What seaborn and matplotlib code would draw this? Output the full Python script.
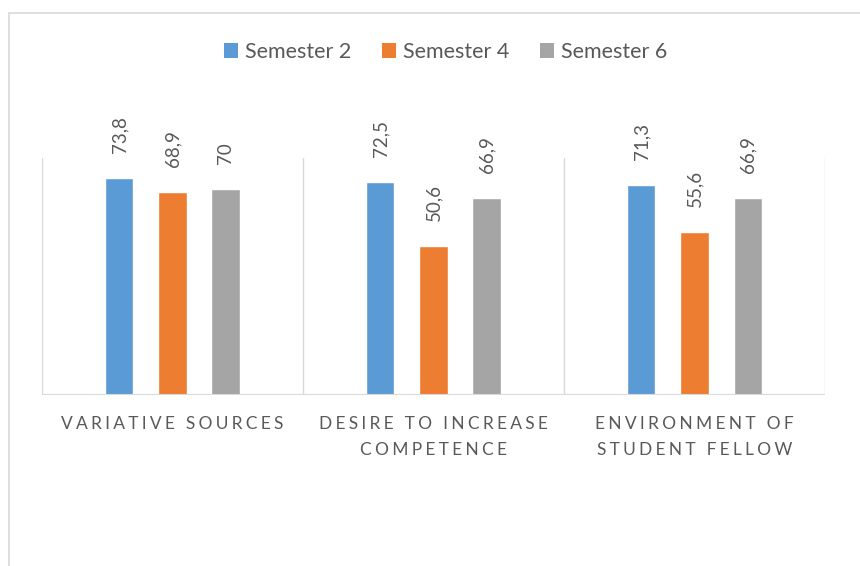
import pandas as pd
import matplotlib.pyplot as plt
import seaborn as sns
from matplotlib.patches import Patch
from matplotlib.lines import Line2D

# chart data
categories = ['VARIATIVE SOURCES', 'DESIRE TO INCREASE COMPETENCE', 'ENVIRONMENT OF STUDENT FELLOW']
tick_labels = ['VARIATIVE SOURCES', 'DESIRE TO INCREASE\nCOMPETENCE', 'ENVIRONMENT OF\nSTUDENT FELLOW']
semesters = ['Semester 2', 'Semester 4', 'Semester 6']
sem2 = [73.8, 72.5, 71.3]
sem4 = [68.9, 50.6, 55.6]
sem6 = [70, 66.9, 66.9]

colors = ['#5B9BD5', '#ED7D31', '#A5A5A5']
grid_col = '#D9D9D9'
text_col = '#595959'

# long form table for seaborn
rows = []
for sem, vals in zip(semesters, [sem2, sem4, sem6]):
    for cat, v in zip(categories, vals):
        rows.append({'category': cat, 'semester': sem, 'value': v})
df = pd.DataFrame(rows)

sns.set_theme(style='white')
plt.rcParams['font.family'] = ['Lato', 'DejaVu Sans']

fig = plt.figure(figsize=(8.6, 5.66), dpi=100)
ax = fig.add_axes([0.0488, 0.302, 0.9105, 0.4187])

sns.barplot(data=df, x='category', y='value', hue='semester', palette=colors,
            width=0.61, gap=0.47, saturation=1, legend=False, ax=ax)

ax.set_xlim(-0.5, 2.5)
ax.set_ylim(0, 80.6)

# value labels, comma decimal
for cont, vals in zip(ax.containers, [sem2, sem4, sem6]):
    labs = [f'{v:g}'.replace('.', ',') for v in vals]
    ax.bar_label(cont, labels=labs, rotation=90, padding=18, fontsize=13.5, color=text_col)

# category separators and baseline
for xs in [-0.5, 0.5, 1.5, 2.5]:
    ax.axvline(xs, color=grid_col, lw=1, zorder=0)
ax.axhline(0, color=grid_col, lw=1.5, zorder=3)

for s in ax.spines.values():
    s.set_visible(False)
ax.set_yticks([])
ax.set_xlabel('')
ax.set_ylabel('')

# letter-spaced category labels (thin + hair space between letters)
def spaced(label):
    return '\n'.join('\u2009\u200a'.join(line) for line in label.split('\n'))

ax.set_xticks(range(3))
ax.set_xticklabels([spaced(t) for t in tick_labels], fontsize=12.5, color=text_col, linespacing=1.8)
ax.tick_params(axis='x', length=0, pad=15)

# legend on top
handles = [Patch(facecolor=c, edgecolor='none') for c in colors]
fig.legend(handles, semesters, loc='center', bbox_to_anchor=(0.518, 1 - 52 / 566), ncol=3,
           frameon=False, fontsize=15.5, labelcolor=text_col, handlelength=0.65,
           handleheight=0.65, handletextpad=0.3, columnspacing=1.45)

# chart area border (top and left visible)
fig.add_artist(Line2D([9 / 860, 1], [1 - 13 / 566, 1 - 13 / 566], color=grid_col, lw=1.2))
fig.add_artist(Line2D([9 / 860, 9 / 860], [0, 1 - 13 / 566], color=grid_col, lw=1.2))

fig.savefig('out.png', dpi=100)
